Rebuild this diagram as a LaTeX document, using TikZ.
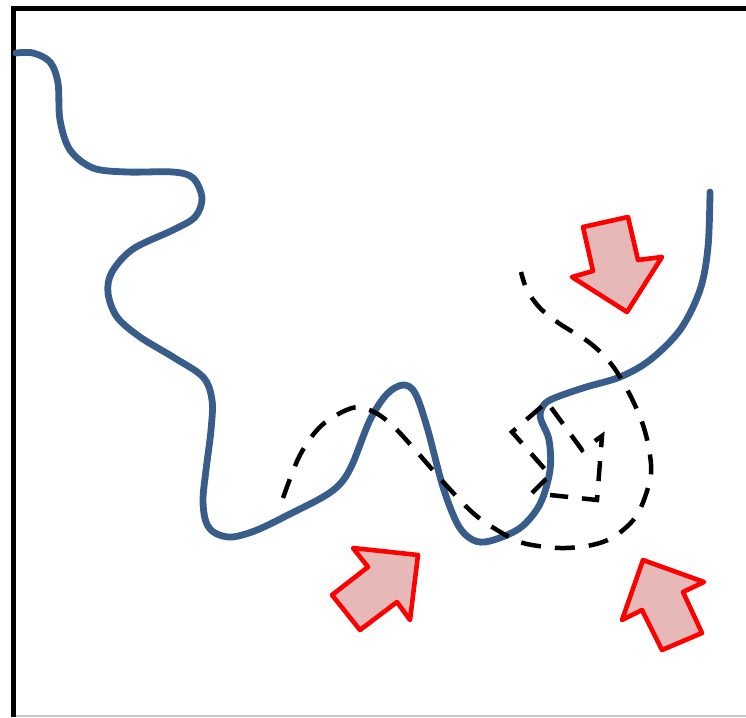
\documentclass[tikz,border=0pt]{standalone}
\usepackage{xcolor}
\definecolor{crack-blue}{HTML}{385D8A}
\definecolor{push-line}{HTML}{FF0000}
\definecolor{push-fill}{HTML}{E6B9B8}
\definecolor{frame-low}{HTML}{C8C8C8}
\usepackage{tikz}

\tikzset{
    crackline/.style={crack-blue, line width=6.8pt, line cap=round},
    trailline/.style={black, line width=4.5pt, dash pattern=on 20pt off 14pt},
    pusharrow/.style={draw=push-line, fill=push-fill, line width=4.6pt, line join=round}
}

\begin{document}
\begin{tikzpicture}[x=1pt, y=-1pt]

    % Canvas
    \useasboundingbox (0, 0) rectangle (746, 717);

    % Frame
    \draw[black, line width=5pt] (13.5, 717) -- (13.5, 8.5) -- (746, 8.5);
    \draw[frame-low, line width=1.5pt] (16, 716.2) -- (746, 716.2);

    % Crack
    \draw[crackline] plot[smooth, tension=0.55] coordinates {
        (16,53) (33,53) (50,62) (58,83) (60,120) (70,150) (93,168) (127,172)
        (173,172) (193,178) (202,198) (195,217) (173,230) (133,249) (112,272)
        (108,293) (117,317) (140,337) (173,357) (203,377) (212,400) (211,430)
        (206,470) (203,500) (206,522) (215,533) (232,537) (257,530) (290,514)
        (323,497) (340,484) (352,465) (370,420) (387,394) (403,385) (415,393)
        (427,427) (443,487) (458,525) (473,540) (490,541) (520,528) (540,504)
        (550,470) (549,440) (541,420) (541,410) (550,400) (583,388) (620,377)
        (650,360) (680,330) (700,290) (708,247) (710,192)};

    % Trail
    \draw[trailline] plot[smooth, tension=0.55] coordinates {
        (283,498) (300,455) (322,425) (352,408) (372,411) (392,425) (417,452)
        (445,484) (473,513) (497,530) (523,543) (560,548) (592,545) (615,536)
        (637,515) (650,480) (650,455) (643,425) (630,395) (612,365) (590,343)
        (560,324) (540,308) (527,290) (521,272)};

    % Trail knot
    \draw[trailline, line join=miter] (532,493) -- (550,475) -- (512,432) -- (547,402)
                 -- (582,450) -- (602,436) -- (597,500) -- (550,495);

    % Push, top
    \filldraw[pusharrow] (583,227) -- (628,217) -- (638,260) -- (662,257)
                 -- (627,312) -- (572,277) -- (593,271) -- cycle;

    % Push, bottom
    \filldraw[pusharrow] (353,548) -- (418,555) -- (410,620) -- (397,602)
                 -- (360,630) -- (332,595) -- (368,567) -- cycle;

    % Push, right
    \filldraw[pusharrow] (643,560) -- (704,582) -- (683,592) -- (702,633)
                 -- (662,650) -- (642,610) -- (622,620) -- cycle;

\end{tikzpicture}
\end{document}
